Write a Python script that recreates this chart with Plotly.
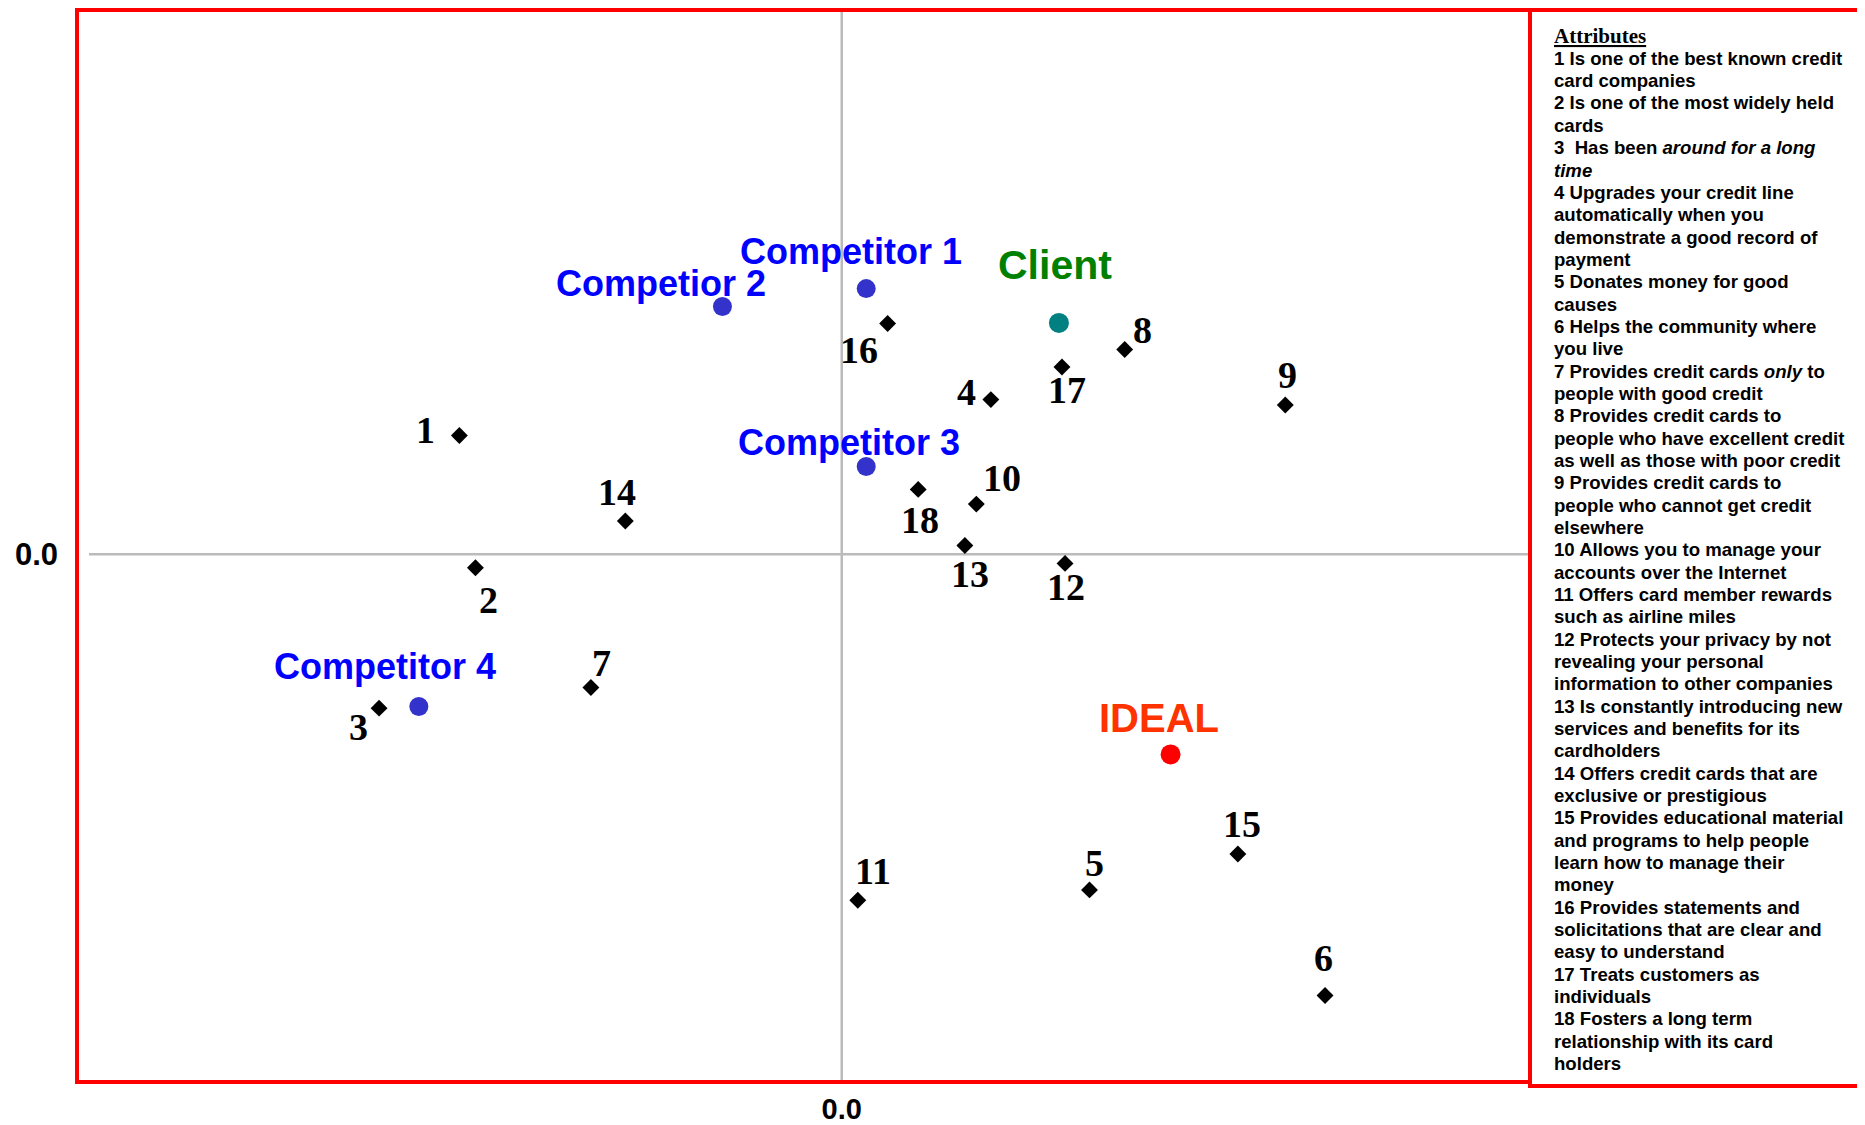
import plotly.graph_objects as go

# ---------------- data ----------------
attr_ids = [str(i) for i in range(1, 19)]
attr_x = [-0.500, -0.479, -0.605, 0.195, 0.324, 0.632, -0.328, 0.370, 0.580,
          0.176, 0.021, 0.292, 0.161, -0.283, 0.518, 0.060, 0.288, 0.100]
attr_y = [0.218, -0.025, -0.283, 0.284, -0.617, -0.811, -0.245, 0.376, 0.274,
          0.092, -0.636, -0.017, 0.016, 0.061, -0.551, 0.424, 0.344, 0.119]

brand_names = ["Competitor 1", "Competior 2", "Competitor 3", "Competitor 4"]
brand_x = [0.032, -0.156, 0.032, -0.553]
brand_y = [0.488, 0.455, 0.161, -0.280]

client_name = "Client"
client_x = [0.284]
client_y = [0.425]

ideal_name = "IDEAL"
ideal_x = [0.430]
ideal_y = [-0.368]

legend_title = "Attributes"
legend_items = [
    ["1 Is one of the best known credit", "card companies"],
    ["2 Is one of the most widely held", "cards"],
    ["3  Has been <i>around for a long</i>", "<i>time</i>"],
    ["4 Upgrades your credit line", "automatically when you", "demonstrate a good record of", "payment"],
    ["5 Donates money for good", "causes"],
    ["6 Helps the community where", "you live"],
    ["7 Provides credit cards <i>only</i> to", "people with good credit"],
    ["8 Provides credit cards to", "people who have excellent credit", "as well as those with poor credit"],
    ["9 Provides credit cards to", "people who cannot get credit", "elsewhere"],
    ["10 Allows you to manage your", "accounts over the Internet"],
    ["11 Offers card member rewards", "such as airline miles"],
    ["12 Protects your privacy by not", "revealing your personal", "information to other companies"],
    ["13 Is constantly introducing new", "services and benefits for its", "cardholders"],
    ["14 Offers credit cards that are", "exclusive or prestigious"],
    ["15 Provides educational material", "and programs to help people", "learn how to manage their", "money"],
    ["16 Provides statements and", "solicitations that are clear and", "easy to understand"],
    ["17 Treats customers as", "individuals"],
    ["18 Fosters a long term", "relationship with its card", "holders"],
]
tick_label = "0.0"

# ---------------- layout constants (screen pixels; page body has 8px margin) ----------------
OFF = 8
W, H = 1865 - OFF, 1125 - OFF
L, R, T, B = 77 - OFF, 1530 - OFF, 10 - OFF, 1082 - OFF
PW, PH = R - L, B - T

# label offsets (px) for attribute numbers: (dx, dy_down)
attr_offsets = [(-34, -6), (13, 32), (-21, 19), (-24, -8), (5, -27), (-2, -37),
                (11, -24), (18, -20), (2, -30), (26, -26), (15, -29), (1, 24),
                (5, 29), (-8, -29), (4, -30), (-29, 27), (5, 23), (2, 31)]
brand_offsets = [(-15, -37), (-61, -23), (-17, -24), (-34, -40)]
client_offset = (-4, -58)
ideal_offset = (-12, -36)

SERIF = "Liberation Serif, Times New Roman, serif"
SANS = "Liberation Sans, Arial, sans-serif"

fig = go.Figure()

fig.add_trace(go.Scatter(
    x=attr_x, y=attr_y, mode="markers",
    marker=dict(symbol="diamond", size=13, color="black"),
    hoverinfo="text", text=attr_ids, showlegend=False))
fig.add_trace(go.Scatter(
    x=brand_x, y=brand_y, mode="markers",
    marker=dict(symbol="circle", size=19, color="#3333CC"),
    hoverinfo="text", text=brand_names, showlegend=False))
fig.add_trace(go.Scatter(
    x=client_x, y=client_y, mode="markers",
    marker=dict(symbol="circle", size=20, color="#008080"),
    hoverinfo="text", text=[client_name], showlegend=False))
fig.add_trace(go.Scatter(
    x=ideal_x, y=ideal_y, mode="markers",
    marker=dict(symbol="circle", size=20, color="#FF0000"),
    hoverinfo="text", text=[ideal_name], showlegend=False))

annotations = []
for lab, x, y, (dx, dy) in zip(attr_ids, attr_x, attr_y, attr_offsets):
    annotations.append(dict(x=x, y=y, xref="x", yref="y", text="<b>%s</b>" % lab,
                            showarrow=False, xshift=dx, yshift=-dy,
                            font=dict(family=SERIF, size=38, color="black")))
for lab, x, y, (dx, dy) in zip(brand_names, brand_x, brand_y, brand_offsets):
    annotations.append(dict(x=x, y=y, xref="x", yref="y", text="<b>%s</b>" % lab,
                            showarrow=False, xshift=dx, yshift=-dy,
                            font=dict(family=SANS, size=36, color="#0000FF")))
annotations.append(dict(x=client_x[0], y=client_y[0], xref="x", yref="y",
                        text="<b>%s</b>" % client_name, showarrow=False,
                        xshift=client_offset[0], yshift=-client_offset[1],
                        font=dict(family=SANS, size=41, color="#008000")))
annotations.append(dict(x=ideal_x[0], y=ideal_y[0], xref="x", yref="y",
                        text="<b>%s</b>" % ideal_name, showarrow=False,
                        xshift=ideal_offset[0], yshift=-ideal_offset[1],
                        font=dict(family=SANS, size=40, color="#FF3300")))

# helpers: screen pixel -> paper coords
def py(pix):
    return (B - (pix - OFF)) / PH
def px(pix):
    return ((pix - OFF) - L) / PW

text_x = px(1552)
annotations.append(dict(x=text_x, y=py(35.7), xref="paper", yref="paper",
                        xanchor="left", yanchor="middle", showarrow=False,
                        text="<b><u>%s</u></b>" % legend_title,
                        font=dict(family=SERIF, size=21, color="black")))
lines = [ln for item in legend_items for ln in item]
for i, ln in enumerate(lines):
    annotations.append(dict(x=text_x, y=py(58.3 + i * 22.34), xref="paper", yref="paper",
                            xanchor="left", yanchor="middle", showarrow=False,
                            text="<b>%s</b>" % ln,
                            font=dict(family=SANS, size=18.6, color="black")))

shapes = [
    # axes cross lines
    dict(type="line", xref="x", yref="paper", x0=0, x1=0, y0=0, y1=1,
         line=dict(color="#BBBBBB", width=2.5), layer="below"),
    dict(type="line", xref="paper", yref="y", x0=px(89), x1=1, y0=0, y1=0,
         line=dict(color="#BBBBBB", width=2.5), layer="below"),
    # plot frame
    dict(type="rect", xref="paper", yref="paper", x0=0, x1=1, y0=0, y1=1,
         line=dict(color="#FF0000", width=4)),
    # legend frame
    dict(type="rect", xref="paper", yref="paper", x0=1, x1=px(1862), y0=py(1086), y1=1,
         line=dict(color="#FF0000", width=4)),
]

fig.update_layout(
    width=W, height=H,
    margin=dict(l=L, r=W - R, t=T, b=H - B, autoexpand=False),
    paper_bgcolor="white", plot_bgcolor="white",
    annotations=annotations, shapes=shapes,
    xaxis=dict(range=[-1.0, 0.9], showgrid=False, zeroline=False, showline=False,
               automargin=False,
               tickvals=[0], ticktext=["<b>%s</b>" % tick_label], ticks="",
               ticklabelstandoff=7,
               tickfont=dict(family=SANS, size=29, color="black")),
    yaxis=dict(range=[-0.97, 1.0], showgrid=False, zeroline=False, showline=False,
               automargin=False,
               tickvals=[0], ticktext=["<b>%s</b>" % tick_label], ticks="",
               ticklabelstandoff=18,
               tickfont=dict(family=SANS, size=31, color="black")),
    showlegend=False,
)

fig.write_html("out.html")
